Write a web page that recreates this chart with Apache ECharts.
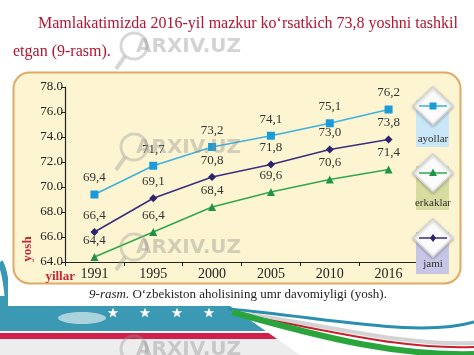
<!DOCTYPE html>
<html>
<head>
<meta charset="utf-8">
<script src="https://cdn.jsdelivr.net/npm/echarts@6/dist/echarts.min.js"></script>
<style>html,body{margin:0;padding:0;background:#fff;}#c{width:474px;height:355px;}</style>
</head>
<body>
<div id="c"></div>
<script>
var years = ['1991', '1995', '2000', '2005', '2010', '2016'];
var seriesNames = ['ayollar', 'erkaklar', 'jami'];
var ayollar = [69.4, 71.7, 73.2, 74.1, 75.1, 76.2];
var erkaklar = [64.4, 66.4, 68.4, 69.6, 70.6, 71.4];
var jami = [66.4, 69.1, 70.8, 71.8, 73.0, 73.8];
var yTicks = [64, 66, 68, 70, 72, 74, 76, 78];

var serif = '"Liberation Serif", "DejaVu Serif", serif';
var colors = {
  ayollar: {line: '#3db2de', mark: '#1b9bd7', box: '#c9e7f6', sym: 'rect', size: 8},
  erkaklar: {line: '#2fa84f', mark: '#1f9444', box: '#d7dca0', sym: 'triangle', size: 8},
  jami: {line: '#3b2f7e', mark: '#2c2470', box: '#c6c6e6', sym: 'diamond', size: 8}
};
var dataMap = {ayollar: ayollar, erkaklar: erkaklar, jami: jami};

function fmt(v) { return v.toFixed(1).replace('.', ','); }

var series = seriesNames.map(function (n) {
  var c = colors[n];
  return {
    name: n, type: 'line', data: dataMap[n],
    symbol: c.sym, symbolSize: c.size,
    lineStyle: {color: c.line, width: 1.6},
    itemStyle: {color: c.mark},
    z: 5,
    label: {show: true, position: 'top', distance: 6, color: '#333',
      fontFamily: serif, fontSize: 13,
      formatter: function (p) { return fmt(p.value); }}
  };
});

var graphics = [];
// bottom decoration (flag)
graphics.push({type: 'rect', z: -30, shape: {x: 0, y: 296, width: 300, height: 36}, style: {fill: '#3b99b3'}});
graphics.push({type: 'ellipse', z: -29, shape: {cx: 82, cy: 318, rx: 24, ry: 6}, style: {fill: 'rgba(220,235,240,0.7)'}});
graphics.push({type: 'rect', z: -30, shape: {x: 0, y: 331, width: 300, height: 2}, style: {fill: '#f4f4f4'}});
graphics.push({type: 'rect', z: -30, shape: {x: 0, y: 333, width: 300, height: 6}, style: {fill: '#cf1f4a'}});
graphics.push({type: 'rect', z: -30, shape: {x: 0, y: 339, width: 474, height: 16}, style: {fill: '#ededed'}});
[113, 145, 177, 209].forEach(function (x) {
  graphics.push({type: 'polygon', z: -28, shape: {points: (function () {
    var pts = []; for (var i = 0; i < 10; i++) { var r = i % 2 ? 2.2 : 5.5; var a = -Math.PI / 2 + i * Math.PI / 5; pts.push([x + r * Math.cos(a), 313 + r * Math.sin(a)]); } return pts; })()},
    style: {fill: '#ffffff'}});
});
// right swoosh
graphics.push({type: 'polygon', z: -27, shape: {points: [[230, 306], [474, 306], [474, 355], [300, 355]]}, style: {fill: '#ffffff'}});
graphics.push({type: 'bezierCurve', z: -26, shape: {x1: 228, y1: 309, cpx1: 330, cpy1: 318, cpx2: 420, cpy2: 338, x2: 474, y2: 322}, style: {stroke: '#2a8fae', lineWidth: 3, fill: 'none'}});
graphics.push({type: 'bezierCurve', z: -26, shape: {x1: 232, y1: 312, cpx1: 330, cpy1: 325, cpx2: 400, cpy2: 346, x2: 474, y2: 343}, style: {stroke: '#d3d3d3', lineWidth: 4, fill: 'none'}});
graphics.push({type: 'bezierCurve', z: -26, shape: {x1: 236, y1: 314, cpx1: 330, cpy1: 330, cpx2: 400, cpy2: 350, x2: 474, y2: 347}, style: {stroke: '#c81e2e', lineWidth: 2, fill: 'none'}});
graphics.push({type: 'bezierCurve', z: -26, shape: {x1: 232, y1: 312, cpx1: 330, cpy1: 340, cpx2: 400, cpy2: 356, x2: 474, y2: 354}, style: {stroke: '#2aa53c', lineWidth: 6, fill: 'none'}});
graphics.push({type: 'bezierCurve', z: -26, shape: {x1: 0, y1: 262, cpx1: 4, cpy1: 268, cpx2: 6, cpy2: 280, x2: 8, y2: 300}, style: {stroke: '#3b99b3', lineWidth: 6, fill: 'none'}});
// white panel
graphics.push({type: 'rect', z: -20, shape: {x: 8, y: 0, width: 466, height: 306}, style: {fill: '#ffffff'}});
// chart box
graphics.push({type: 'rect', z: -10, shape: {x: 13.5, y: 72.5, width: 447, height: 211, r: 16}, style: {fill: '#fdf5d2', stroke: '#e2a865', lineWidth: 2}});
// top text
graphics.push({type: 'text', z: 10, style: {x: 38, y: 24, text: 'Mamlakatimizda 2016-yil mazkur ko\u2018rsatkich 73,8 yoshni tashkil', fill: '#b3142f', font: '16px ' + serif, textVerticalAlign: 'middle'}});
graphics.push({type: 'text', z: 10, style: {x: 13, y: 52, text: 'etgan (9-rasm).', fill: '#b3142f', font: '16px ' + serif, textVerticalAlign: 'middle'}});
// axis names
graphics.push({type: 'text', z: 10, rotation: Math.PI / 2, x: 28, y: 249, style: {x: 0, y: 0, text: 'yosh', fill: '#c0283a', font: 'bold 13px ' + serif, textAlign: 'center', textVerticalAlign: 'middle'}});
graphics.push({type: 'text', z: 10, style: {x: 75, y: 277, text: 'yillar', fill: '#c0283a', font: 'bold 13px ' + serif, textAlign: 'right', textVerticalAlign: 'middle'}});
// caption
graphics.push({type: 'text', z: 10, style: {x: 238, y: 295, text: '{i|9-rasm.} O\u2018zbekiston aholisining umr davomiyligi (yosh).', fill: '#222', font: '13px ' + serif, textAlign: 'center', textVerticalAlign: 'middle',
  rich: {i: {fontStyle: 'italic', fontFamily: serif, fontSize: 13, fill: '#222'}}}});
// legend
var legY = {ayollar: [106, 139, 100, 147], erkaklar: [173, 203, 166, 210], jami: [238, 264, 232, 274]};
seriesNames.forEach(function (n) {
  var c = colors[n], L = legY[n], cx = 433;
  graphics.push({type: 'rect', z: 1, shape: {x: 416, y: L[2], width: 33, height: L[3] - L[2]}, style: {fill: c.box}});
  graphics.push({type: 'polygon', z: 2, shape: {points: [[cx, L[0] - 19], [cx + 20, L[0]], [cx, L[0] + 19], [cx - 20, L[0]]]}, style: {fill: '#fbfbfb', stroke: '#d4d4d4', lineWidth: 1.5, shadowBlur: 3, shadowColor: 'rgba(0,0,0,0.25)', shadowOffsetY: 1}});
  graphics.push({type: 'line', z: 3, shape: {x1: cx - 14, y1: L[0], x2: cx + 14, y2: L[0]}, style: {stroke: c.line, lineWidth: 1.5}});
  var sym;
  if (c.sym === 'rect') sym = {type: 'rect', shape: {x: cx - 3.5, y: L[0] - 3.5, width: 7, height: 7}};
  else if (c.sym === 'triangle') sym = {type: 'polygon', shape: {points: [[cx, L[0] - 4.5], [cx + 4, L[0] + 3], [cx - 4, L[0] + 3]]}};
  else sym = {type: 'polygon', shape: {points: [[cx, L[0] - 4], [cx + 3, L[0]], [cx, L[0] + 4], [cx - 3, L[0]]]}};
  sym.z = 4; sym.style = {fill: c.mark};
  graphics.push(sym);
  graphics.push({type: 'text', z: 4, style: {x: cx, y: L[1], text: n, fill: '#333', font: '11px ' + serif, textAlign: 'center', textVerticalAlign: 'middle'}});
});
// watermarks
[47, 148, 248, 350].forEach(function (y) {
  graphics.push({type: 'circle', z: 20, shape: {cx: 134, cy: y - 1, r: 13}, style: {fill: 'none', stroke: 'rgba(150,150,150,0.38)', lineWidth: 3}});
  graphics.push({type: 'line', z: 20, shape: {x1: 125, y1: y + 9, x2: 116, y2: y + 22}, style: {stroke: 'rgba(150,150,150,0.38)', lineWidth: 4}});
  graphics.push({type: 'text', z: 20, style: {x: 136, y: y, text: 'ARXIV.UZ', fill: 'rgba(140,140,140,0.38)', font: 'bold 20px "DejaVu Sans", sans-serif', textVerticalAlign: 'middle'}});
});

var chart = echarts.init(document.getElementById('c'), null, {renderer: 'canvas'});
chart.setOption({
  animation: false,
  backgroundColor: '#ffffff',
  grid: {left: 65, right: 56, top: 87, bottom: 93, containLabel: false},
  xAxis: {
    type: 'category', data: years, boundaryGap: true,
    axisLine: {lineStyle: {color: '#222', width: 1.2}},
    axisTick: {show: true, length: 4, inside: false, lineStyle: {color: '#222'}},
    axisLabel: {color: '#222', fontFamily: serif, fontSize: 14, margin: 5}
  },
  yAxis: {
    type: 'value', min: yTicks[0], max: yTicks[yTicks.length - 1], interval: 2,
    axisLine: {show: true, lineStyle: {color: '#222', width: 1.2}},
    axisTick: {show: true, length: 4, lineStyle: {color: '#222'}},
    splitLine: {show: false},
    axisLabel: {color: '#222', fontFamily: serif, fontSize: 13, margin: 2,
      formatter: function (v) { return v.toFixed(1); }}
  },
  graphic: graphics,
  series: series
});
</script>
</body>
</html>
